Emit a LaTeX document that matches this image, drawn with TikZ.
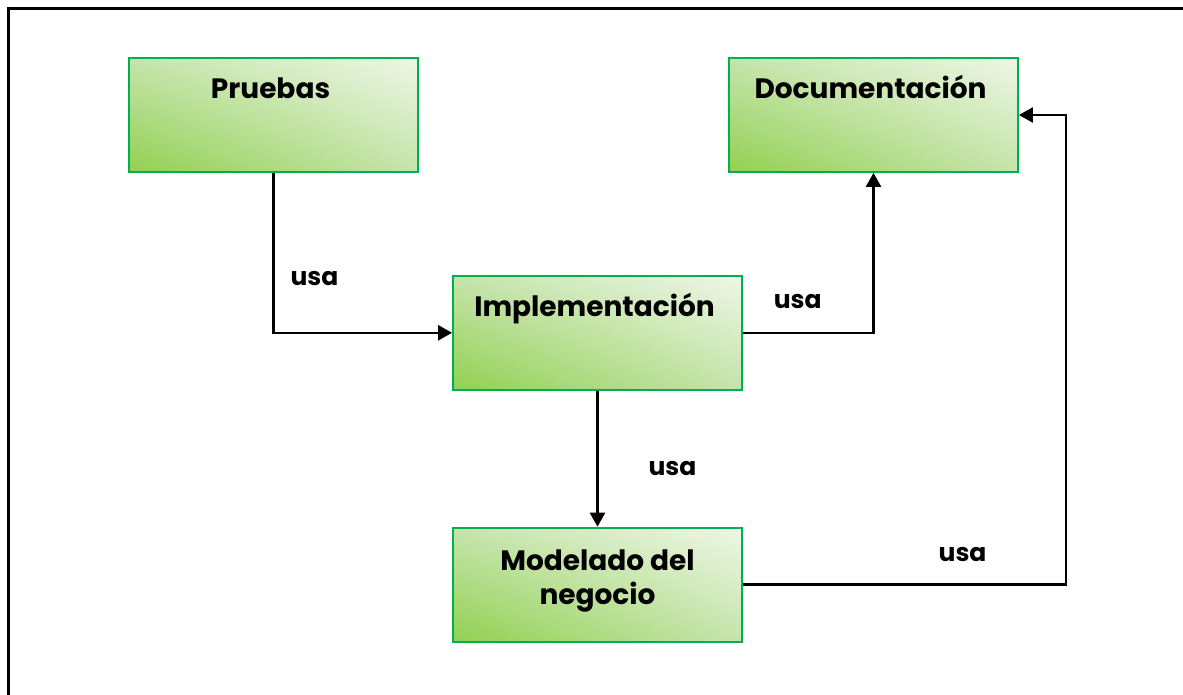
\documentclass[tikz,border=0pt]{standalone}
\usepackage{fontspec}
\setmainfont{Poppins}
\usetikzlibrary{positioning,arrows.meta,shadings}

\definecolor{verdeborde}{RGB}{0,176,80}
\definecolor{verdeoscuro}{RGB}{146,208,80}
\definecolor{verdemedio}{RGB}{197,228,172}
\definecolor{verdeclaro}{RGB}{238,247,230}

\begin{document}
\begin{tikzpicture}
[
    x = 1pt, y = 1pt,
    node distance = 51pt and 154.6pt,
    caja/.style = {draw=verdeborde,
                   line width=0.9pt,
                   shade,
                   shading=bilinear interpolation,
                   lower left=verdeoscuro,
                   upper left=verdemedio,
                   lower right=verdemedio,
                   upper right=verdeclaro,
                   minimum width=144.5pt,
                   minimum height=57pt,
                   inner ysep=8pt,
                   text height=12.5pt,
                   text depth=28.5pt,
                   align=center,
                   font=\fontsize{14}{17}\selectfont\bfseries},
    etiq/.style = {font=\fontsize{12.5}{15}\selectfont\bfseries},
    arr/.style  = {line width=1.2pt,
                   -{Triangle[length=7pt,width=7.5pt]}}
]

\useasboundingbox (0,0) rectangle (591.5,-347.5);
\draw[line width=1.5pt] (4,-347.5) |- (591.5,-4.5);

\node (pruebas) [caja] at (136.75,-57.5) {
Pruebas
};
\node (docu) [caja, right=of pruebas] {
Documentación
};

\node (impl) [caja, below right=51pt and 16.6pt of pruebas] {
Implementación
};

\draw[arr] (pruebas.south) |- node[etiq, pos=0.33, xshift=20.5pt] {usa} (impl.west);
\draw[arr] (impl.east) -| node[etiq, pos=0.21, yshift=15.5pt] {usa} (docu.south);

\node (modelo) [caja, below=68pt of impl, text height=30.5pt, text depth=10.5pt] {
Modelado del\\negocio
};

\draw[arr] (impl) -- node[etiq, pos=0.57, xshift=37.5pt] {usa} (modelo);

\coordinate (rodeo) at ([xshift=23.5pt]docu.east);
\draw[arr] (modelo.east) -| node[etiq, pos=0.34, yshift=15.25pt] {usa} (rodeo) -- (docu.east);

\end{tikzpicture}
\end{document}
